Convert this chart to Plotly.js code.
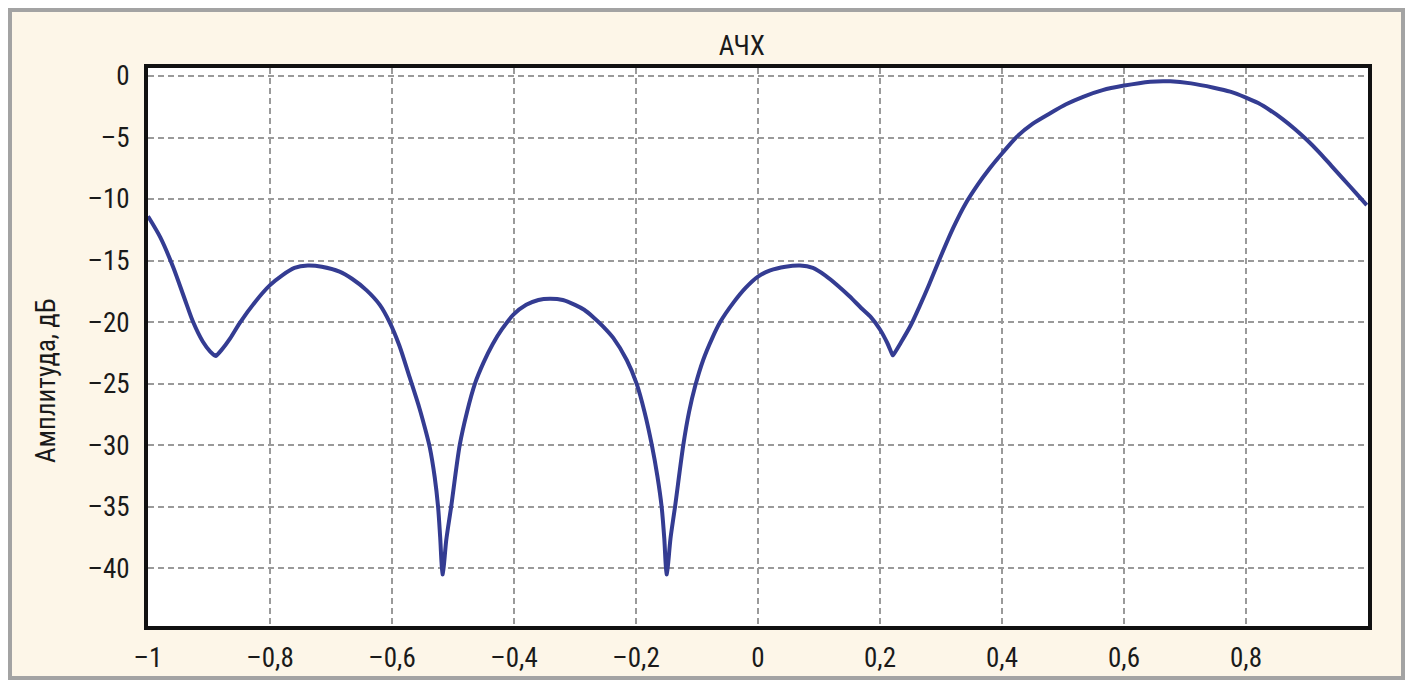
<!DOCTYPE html>
<html>
<head>
<meta charset="utf-8">
<script src="https://cdn.plot.ly/plotly-3.0.1.min.js"></script>
<style>
html,body{margin:0;padding:0;background:#ffffff;width:1413px;height:687px;overflow:hidden;}
#frame{position:absolute;left:8px;top:8px;width:1389px;height:664px;border:4px solid #a3a3a3;background:#fdf6e8;}
#chart{position:absolute;left:0;top:0;width:1413px;height:687px;}
</style>
</head>
<body>
<div id="frame"></div>
<div id="chart"></div>
<script>
// Normalized direction (u) and amplitude in dB
const u = [-1.000,-0.980,-0.959,-0.940,-0.926,-0.910,-0.898,-0.8892,-0.8888,-0.880,-0.865,-0.850,-0.825,-0.800,-0.780,-0.760,-0.738,-0.715,-0.686,-0.665,-0.642,-0.620,-0.604,-0.588,-0.571,-0.555,-0.545,-0.538,-0.530,-0.5245,-0.521,-0.5172,-0.5168,-0.511,-0.503,-0.489,-0.477,-0.464,-0.450,-0.435,-0.420,-0.401,-0.380,-0.360,-0.341,-0.320,-0.300,-0.285,-0.270,-0.255,-0.237,-0.215,-0.199,-0.186,-0.174,-0.165,-0.158,-0.1536,-0.1499,-0.1495,-0.1435,-0.136,-0.1225,-0.113,-0.103,-0.090,-0.075,-0.062,-0.040,-0.020,0.000,0.020,0.045,0.069,0.090,0.110,0.130,0.150,0.170,0.185,0.200,0.212,0.2208,0.2212,0.235,0.250,0.265,0.280,0.298,0.320,0.340,0.360,0.380,0.400,0.4245,0.450,0.479,0.505,0.534,0.565,0.598,0.643,0.676,0.710,0.747,0.774,0.799,0.820,0.840,0.860,0.880,0.900,0.920,0.940,0.960,0.980,0.998];
const ampDb = [-11.4,-13.1,-15.5,-18.1,-20.0,-21.6,-22.4,-22.75,-22.75,-22.3,-21.3,-20.1,-18.4,-17.0,-16.2,-15.6,-15.4,-15.5,-15.9,-16.5,-17.4,-18.6,-20.0,-21.9,-24.5,-27.0,-28.8,-30.2,-32.6,-35.0,-37.5,-40.5,-40.5,-37.7,-35.0,-30.0,-27.3,-25.0,-23.3,-21.8,-20.6,-19.4,-18.6,-18.2,-18.1,-18.2,-18.6,-19.0,-19.6,-20.3,-21.3,-23.1,-25.0,-27.3,-30.0,-32.5,-35.0,-37.6,-40.5,-40.5,-37.6,-35.0,-30.0,-27.3,-25.2,-23.1,-21.3,-20.0,-18.4,-17.2,-16.3,-15.8,-15.5,-15.4,-15.6,-16.2,-17.0,-17.9,-18.9,-19.6,-20.6,-21.7,-22.7,-22.7,-21.6,-20.3,-18.7,-17.0,-14.85,-12.35,-10.4,-8.85,-7.5,-6.3,-4.93,-3.9,-3.03,-2.3,-1.67,-1.15,-0.8,-0.46,-0.43,-0.6,-0.95,-1.27,-1.73,-2.2,-2.8,-3.5,-4.3,-5.2,-6.2,-7.3,-8.4,-9.5,-10.5];
const xTicks = [-1,-0.8,-0.6,-0.4,-0.2,0,0.2,0.4,0.6,0.8];
const xTickText = ['–1','–0,8','–0,6','–0,4','–0,2','0','0,2','0,4','0,6','0,8'];
const yTicks = [0,-5,-10,-15,-20,-25,-30,-35,-40];
const yTickText = ['0','–5','–10','–15','–20','–25','–30','–35','–40'];
const titleText = 'АЧХ';
const yTitleText = 'Амплитуда, дБ';

const fontFam = '"Roboto Condensed", "Liberation Sans Narrow", Roboto, sans-serif';

const trace = {
  x: u, y: ampDb, type: 'scatter', mode: 'lines',
  line: {color: '#343c92', width: 4, shape: 'spline', smoothing: 0.8},
  hoverinfo: 'skip'
};

const layout = {
  width: 1413, height: 687,
  margin: {l: 148, r: 45, t: 68, b: 61},
  paper_bgcolor: 'rgba(0,0,0,0)',
  plot_bgcolor: '#ffffff',
  separators: ', ',
  showlegend: false,
  font: {family: fontFam, color: '#1a1a1a', size: 27},
  title: {text: titleText, x: 0.525, xref: 'container', xanchor: 'center', y: 1 - 46/687, yref: 'container', yanchor: 'middle', font: {family: fontFam, size: 27, color: '#1a1a1a'}},
  xaxis: {
    range: [-1, 1], tickvals: xTicks, ticktext: xTickText, ticks: '', ticklabelstandoff: 5,
    showgrid: true, gridcolor: '#9a9a9a', gridwidth: 2, griddash: '6px,4px',
    zeroline: false, showline: true, mirror: true, linecolor: '#111111', linewidth: 4,
    tickfont: {family: fontFam, size: 27, color: '#1a1a1a'}
  },
  yaxis: {
    range: [-44.7, 0.65], tickvals: yTicks, ticktext: yTickText, ticks: '', ticklabelstandoff: 9,
    showgrid: true, gridcolor: '#9a9a9a', gridwidth: 2, griddash: '6px,4px',
    zeroline: false, showline: true, mirror: true, linecolor: '#111111', linewidth: 4,
    tickfont: {family: fontFam, size: 27, color: '#1a1a1a'}
  },
  annotations: [{
    text: yTitleText, xref: 'paper', yref: 'paper',
    x: -(148-46)/1220, y: 1 - (381-68)/558, xanchor: 'center', yanchor: 'middle',
    textangle: -90, showarrow: false,
    font: {family: fontFam, size: 27, color: '#1a1a1a'}
  }]
};

Plotly.newPlot('chart', [trace], layout, {staticPlot: true, displayModeBar: false});
</script>
</body>
</html>
